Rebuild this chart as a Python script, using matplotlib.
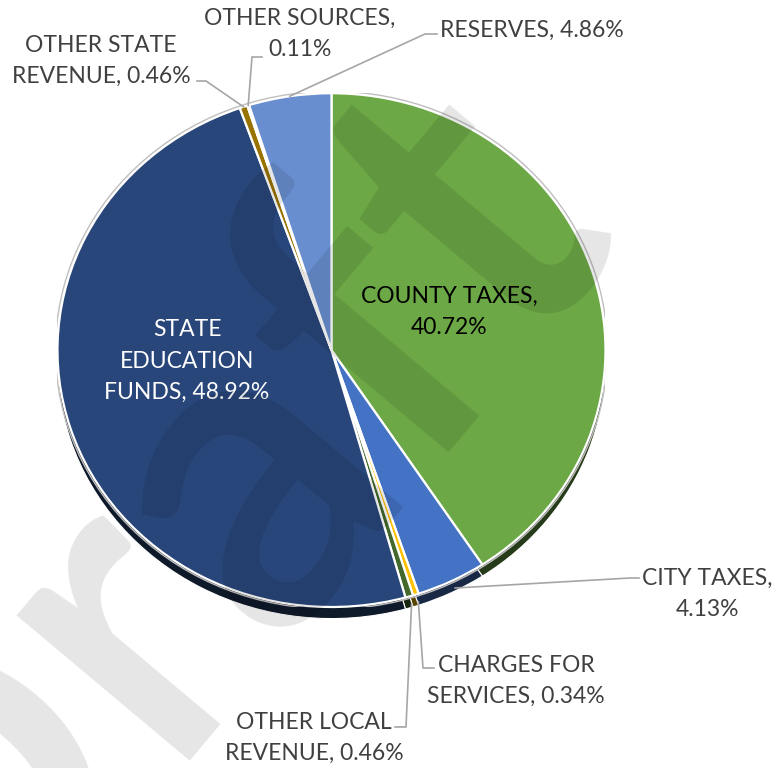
import numpy as np
import matplotlib.pyplot as plt
from matplotlib.colors import to_rgb
from matplotlib.patches import Ellipse

plt.rcParams['font.family'] = ['Lato', 'DejaVu Sans']

names = ['COUNTY TAXES,\n', 'CITY TAXES,\n', 'CHARGES FOR\nSERVICES, ', 'OTHER LOCAL\nREVENUE, ',
         'STATE\nEDUCATION\nFUNDS, ', 'OTHER STATE\nREVENUE, ', 'OTHER SOURCES,\n', 'RESERVES, ']
shares = [40.72, 4.13, 0.34, 0.46, 48.92, 0.46, 0.11, 4.86]
colors = ['#6CA846', '#4472C4', '#FFC000', '#43682B', '#284679', '#997300', '#7F7F7F', '#698ED0']

W, H = 784, 768
fig = plt.figure(figsize=(W / 100, H / 100), dpi=100)
ax = fig.add_axes([0.0733, 0.2096, 0.699, 0.669])

# side of the "3d" pie: darker copy pushed down a bit
dark = [tuple(c * 0.35 for c in to_rgb(col)) for col in colors]
ax.pie(shares, colors=dark, startangle=90, counterclock=False, center=(0, -0.045),
       wedgeprops=dict(edgecolor='white', linewidth=0.8))
wedges, _ = ax.pie(shares, colors=colors, startangle=90, counterclock=False,
                   wedgeprops=dict(edgecolor='white', linewidth=1.6))
ax.add_patch(Ellipse((0, 0), 2.015, 2.015, fill=False, edgecolor='#BFBFBF', lw=1.0))
ax.set_aspect('auto')
ax.set_xlim(-1, 1)
ax.set_ylim(-1, 1)

inv = ax.transData.inverted()


def px(x, y):
    return inv.transform((x, H - y))


texts = [n + '{:.2f}%'.format(v) for n, v in zip(names, shares)]
fs = 16.5
ls = 1.62

# inside labels
ax.text(*px(449, 312), texts[0], ha='center', va='center', fontsize=fs, color='black', linespacing=ls)
ax.text(*px(187, 361), texts[4], ha='center', va='center', fontsize=fs, color='white', linespacing=ls)

# outside labels: (index, text centre, line end, elbow)
outside = [
    (5, (101, 61), (197, 81), (206, 81)),
    (6, (300, 34), (262, 57), (252, 57)),
    (7, (532, 30), (437, 34), (425, 34)),
    (1, (707, 594), (639, 578), (630, 578)),
    (2, (516, 681), (434, 668), (423, 668)),
    (3, (314, 738), (395, 727), (406, 727)),
]
for i, tc, end, elbow in outside:
    w = wedges[i]
    mid = np.deg2rad((w.theta1 + w.theta2) / 2)
    r = 1.0 if np.sin(mid) > 0 else 1.03
    anchor = (r * np.cos(mid), r * np.sin(mid))
    e = px(*elbow)
    t = px(*end)
    ax.plot([anchor[0], e[0], t[0]], [anchor[1], e[1], t[1]], color='#A6A6A6', lw=1.2,
            clip_on=False, zorder=5)
    ax.text(*px(*tc), texts[i], ha='center', va='center', fontsize=fs, color='#404040',
            linespacing=ls)

# watermark
fig.text(180 / W, 1 - 530 / H, 'Draft', rotation=50, fontsize=320, color='black', alpha=0.1,
         ha='center', va='center', fontweight='semibold', zorder=10)

fig.savefig('out.png', dpi=100)
